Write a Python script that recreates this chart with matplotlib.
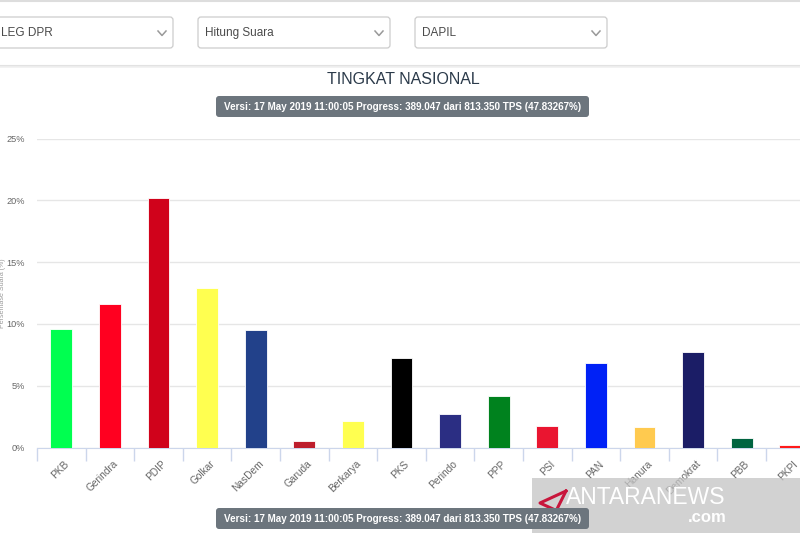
import matplotlib
matplotlib.use('Agg')
import numpy as np
from matplotlib import pyplot as plt
from matplotlib.patches import FancyBboxPatch, Rectangle

plt.rcParams['font.family'] = ['Liberation Sans', 'DejaVu Sans']

# data
parties = ['PKB', 'Gerindra', 'PDIP', 'Golkar', 'NasDem', 'Garuda', 'Berkarya', 'PKS',
           'Perindo', 'PPP', 'PSI', 'PAN', 'Hanura', 'Demokrat', 'PBB', 'PKPI']
votes = [9.56, 11.59, 20.15, 12.94, 9.48, 0.49, 2.11, 7.24,
         2.70, 4.19, 1.70, 6.86, 1.65, 7.70, 0.76, 0.22]
colors = ['#00ff50', '#ff0020', '#d0021b', '#ffff50', '#22418a', '#be1e2d', '#ffff50', '#000000',
          '#2b2e83', '#00821e', '#ea1530', '#0021f6', '#ffca4f', '#1b1d66', '#006440', '#ff1a1a']
yticks = [0, 5, 10, 15, 20, 25]

title = 'TINGKAT NASIONAL'
badge = 'Versi: 17 May 2019 11:00:05 Progress: 389.047 dari 813.350 TPS (47.83267%)'
dropdowns = ['LEG DPR', 'Hitung Suara', 'DAPIL']

W, H = 800, 533
fig = plt.figure(figsize=(W / 100, H / 100), dpi=100)
fig.patch.set_facecolor('white')

# chart axes, goes a bit past the right edge like the screenshot
ax = fig.add_axes([37 / W, (H - 447.5) / H, 777.6 / W, 309 / H])
x = np.arange(len(parties))
ax.bar(x, votes, width=0.45, color=colors, edgecolor='#ffffff', linewidth=0.6, zorder=3)
ax.set_xlim(-0.5, len(parties) - 0.5)
ax.set_ylim(0, 25)
ax.set_yticks(yticks)
ax.set_yticklabels([f'{v}%' for v in yticks], fontsize=6.6, color='#666666')
ax.yaxis.grid(True, color='#e6e6e6', linewidth=1, zorder=0)
ax.tick_params(axis='y', length=0, pad=8.5)
for s in ['top', 'right', 'left']:
    ax.spines[s].set_visible(False)
ax.spines['bottom'].set_color('#ccd6eb')
ax.set_xticks(np.arange(len(parties) + 1) - 0.5, minor=False)
ax.set_xticklabels([])
ax.tick_params(axis='x', length=9, color='#ccd6eb', width=1)
for i, p in enumerate(parties):
    ax.text(i + 0.05, -0.9, p, rotation=45, ha='right', va='top', rotation_mode='anchor',
            fontsize=7.3, color='#666666')
ax.set_ylabel('Persentase Suara (%)', fontsize=5, color='#999999', labelpad=0)
ax.yaxis.set_label_coords(-31 / 777.6, 0.5)

# overlay in pixel coords for the page bits
ov = fig.add_axes([0, 0, 1, 1], zorder=5)
ov.set_xlim(0, W)
ov.set_ylim(H, 0)
ov.axis('off')
ov.patch.set_alpha(0)

ov.plot([0, W], [0.5, 0.5], color='#dddddd', lw=1.5)
ov.plot([0, W], [65.5, 65.5], color='#e2e2e2', lw=1.5)
ov.plot([0, W], [66.8, 66.8], color='#f0f0f0', lw=1.2)

boxes = [(-6, 179), (198, 192), (415, 192)]
for (bx, bw), label in zip(boxes, dropdowns):
    ov.add_patch(FancyBboxPatch((bx, 17), bw, 31, boxstyle='round,pad=0,rounding_size=3',
                                facecolor='white', edgecolor='#cccccc', lw=0.9))
    ov.text(max(bx + 7, 0), 33, label, fontsize=8.5, color='#4a4a4a', va='center')
    cx = bx + bw - 11
    ov.plot([cx - 4, cx, cx + 4], [31, 35.5, 31], color='#999999', lw=1.1)

ov.text(403, 80, title, fontsize=11.5, color='#2b3a4a', ha='center', va='center')

for by in [96, 508]:
    ov.add_patch(FancyBboxPatch((216, by), 373, 21, boxstyle='round,pad=0,rounding_size=3',
                                facecolor='#6c757d', edgecolor='none', zorder=6))
    ov.text(402.5, by + 10.5, badge, fontsize=7.1, fontweight='bold', color='white',
            ha='center', va='center', zorder=7)

# watermark
ov.add_patch(Rectangle((532, 478), 270, 56, facecolor='#c4c4c4', alpha=0.75,
                       edgecolor='none', zorder=4))
ov.text(566, 497, 'ANTARANEWS', fontsize=16.5, color='white', va='center', ha='left',
        zorder=5)
ov.text(727, 517, '.com', fontsize=12, color='white', va='center', ha='right',
        fontweight='bold', zorder=5)
ov.plot([566, 540, 566], [491, 503, 515], color='#c8163c', lw=2.2, zorder=5)
ov.plot([566, 557], [491, 509], color='#c8163c', lw=2.2, zorder=5)

fig.savefig('out.png', dpi=100)
